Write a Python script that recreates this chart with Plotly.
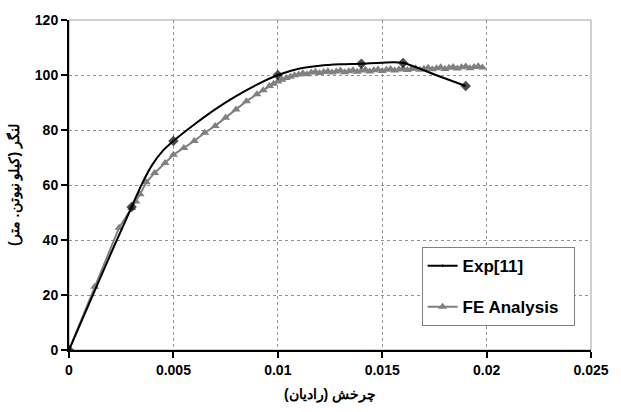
import plotly.graph_objects as go

# ---- data ----
exp_x = [0, 0.001, 0.002, 0.003, 0.0035, 0.004, 0.0045, 0.005, 0.006, 0.007, 0.008,
         0.009, 0.01, 0.011, 0.012, 0.013, 0.014, 0.015, 0.016, 0.0175, 0.019]
exp_y = [0, 17.5, 35, 52, 60.5, 67.5, 72.5, 76, 82, 87.5, 92.3,
         96.5, 100, 102.3, 103.4, 103.9, 104.1, 104.5, 104.4, 100.2, 96]
exp_marked = [1, 0, 0, 1, 0, 0, 0, 1, 0, 0, 0, 0, 1, 0, 0, 0, 1, 0, 1, 0, 1]

fe_x = [0, 0.00123, 0.0024, 0.003, 0.0032, 0.0034, 0.0037, 0.0041, 0.0046, 0.005,
        0.0055, 0.006, 0.0065, 0.007, 0.0075, 0.008, 0.0085, 0.009, 0.0093, 0.0096,
        0.0098, 0.01, 0.0102, 0.0104, 0.0106, 0.0108, 0.011, 0.0112, 0.0114, 0.0116,
        0.0118, 0.012, 0.0122, 0.0124, 0.0126, 0.0128, 0.013, 0.0132, 0.0134, 0.0136,
        0.0138, 0.014, 0.0142, 0.0144, 0.0146, 0.0148, 0.015, 0.0152, 0.0154, 0.0156,
        0.0158, 0.016, 0.0162, 0.0164, 0.0166, 0.0168, 0.017, 0.0172, 0.0174, 0.0176,
        0.0178, 0.018, 0.0182, 0.0184, 0.0186, 0.0188, 0.019, 0.0192, 0.0194, 0.0196,
        0.0198]
fe_y = [0, 23, 44.5, 51.6, 54, 56.6, 61, 64.4, 68, 71,
        73.5, 76, 79, 81.5, 84.5, 87.5, 90.5, 93, 94.5, 96,
        96.8, 97.6, 98.3, 98.9, 99.4, 99.9, 100.2, 100.6, 100.3, 100.9,
        101.2, 100.7, 101.1, 101.4, 100.9, 101.3, 101.6, 101.0, 101.4, 101.7,
        101.2, 101.6, 101.9, 101.3, 101.7, 102.0, 101.5, 101.9, 102.2, 101.6,
        102.0, 102.3, 101.8, 102.2, 102.5, 101.9, 102.3, 102.6, 102.1, 102.5,
        102.8, 102.2, 102.6, 102.9, 102.4, 102.8, 103.1, 102.5, 102.9, 103.2,
        102.7]

x_ticks = [0, 0.005, 0.01, 0.015, 0.02, 0.025]
x_tick_labels = ["0", "0.005", "0.01", "0.015", "0.02", "0.025"]
y_ticks = [0, 20, 40, 60, 80, 100, 120]

x_title = "چرخش (رادیان)"
y_title = "لنگر (کیلو نیوتن. متر)"

FONT = "Liberation Sans, Arial, sans-serif"
GRAY = "#808080"
NB = "\u00a0"

fig = go.Figure()

fig.add_trace(go.Scatter(
    x=fe_x, y=fe_y, name="FE Analysis" + NB * 2, mode="lines+markers",
    line=dict(color=GRAY, width=2),
    marker=dict(symbol="triangle-up", size=8, color=GRAY),
    legendgroup="b", legendrank=2,
))

fig.add_trace(go.Scatter(
    x=exp_x, y=exp_y, name="Exp[11]", mode="lines+markers",
    line=dict(color="black", width=2, shape="spline", smoothing=0.8),
    marker=dict(symbol="diamond", size=[8 if m else 0 for m in exp_marked], color="black",
                line=dict(width=0)),
    legendgroup="a", legendrank=1,
))

fig.add_shape(type="rect", xref="paper", yref="paper", x0=0, x1=1, y0=0, y1=1,
              line=dict(color="#a0a0a0", width=1), layer="below")

fig.update_layout(
    width=621, height=412,
    margin=dict(l=69, r=22, t=15, b=60),
    paper_bgcolor="white", plot_bgcolor="white",
    font=dict(family=FONT, size=14, color="black"),
    showlegend=True,
    legend=dict(
        x=(427 - 69) / 530, y=(352 - 247) / 337, xanchor="left", yanchor="top",
        bgcolor="white", bordercolor="#808080", borderwidth=1,
        font=dict(family=FONT, size=17, color="black", weight="bold"),
        traceorder="grouped", tracegroupgap=16, itemwidth=30,
    ),
    xaxis=dict(
        range=[0, 0.025], tickvals=x_ticks, ticktext=x_tick_labels,
        showline=True, linecolor="black", linewidth=2,
        ticks="outside", ticklen=6, tickwidth=2, tickcolor="black",
        showgrid=True, gridcolor="#909090", griddash="dot", gridwidth=1,
        zeroline=False,
        tickfont=dict(family=FONT, size=14, weight="bold"),
        title=dict(text=x_title, font=dict(family=FONT, size=14, weight="bold"), standoff=12),
    ),
    yaxis=dict(
        range=[0, 120], tickvals=y_ticks,
        showline=True, linecolor="black", linewidth=2,
        ticks="outside", ticklen=6, tickwidth=2, tickcolor="black",
        showgrid=True, gridcolor="#909090", griddash="dot", gridwidth=1,
        zeroline=False,
        tickfont=dict(family=FONT, size=14, weight="bold"),
        title=dict(text=y_title, font=dict(family=FONT, size=14, weight="bold"), standoff=12),
    ),
)

fig.write_html("out.html")
